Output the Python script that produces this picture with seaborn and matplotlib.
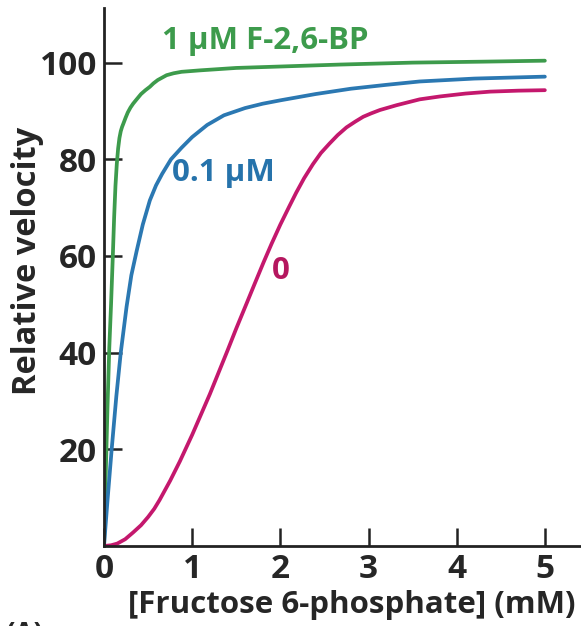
import numpy as np
import pandas as pd
import matplotlib
matplotlib.use("Agg")
import matplotlib.pyplot as plt
import seaborn as sns

# values
# 1 uM F-2,6-BP
x_one = [0, 0.02, 0.04, 0.06, 0.08, 0.1, 0.115, 0.13, 0.145, 0.16, 0.175, 0.19, 0.205,
         0.22, 0.245, 0.27, 0.3, 0.33, 0.37, 0.42, 0.47, 0.52, 0.56, 0.61, 0.66, 0.71,
         0.79, 0.88, 1.09, 1.5, 1.84, 2.68, 3.5, 4.3, 5.0]
v_one = [0, 15, 29, 41, 50, 60, 68, 74.5, 79, 82.2, 84.4, 85.8, 86.7,
         87.4, 88.6, 89.7, 90.7, 91.5, 92.4, 93.5, 94.3, 95, 95.7, 96.4, 96.9, 97.4,
         97.8, 98.1, 98.4, 98.9, 99.1, 99.6, 100, 100.2, 100.4]
# 0.1 uM
x_tenth = [0, 0.04, 0.087, 0.14, 0.19, 0.256, 0.31, 0.37, 0.44, 0.52, 0.59, 0.66,
           0.76, 0.88, 1.0, 1.17, 1.36, 1.6, 1.8, 2.0, 2.4, 2.8, 3.2, 3.58, 4.2, 5.0]
v_tenth = [0, 9.5, 20, 31, 40, 49.5, 56, 61, 66.5, 71.5, 74.6, 77,
           80, 82.4, 84.6, 87.1, 89.1, 90.6, 91.5, 92.2, 93.5, 94.6, 95.4, 96.1, 96.7, 97.1]
# no F-2,6-BP
x_zero = [0, 0.08, 0.15, 0.24, 0.33, 0.42, 0.5, 0.57, 0.63, 0.75, 0.86, 1.0, 1.1,
          1.2, 1.28, 1.4, 1.5, 1.62, 1.71, 1.81, 1.9, 2.0, 2.1, 2.18, 2.27, 2.37,
          2.46, 2.56, 2.65, 2.75, 2.85, 2.94, 3.03, 3.13, 3.32, 3.58, 3.81, 4.1,
          4.38, 4.7, 5.0]
v_zero = [0, 0.15, 0.5, 1.4, 2.8, 4.3, 6, 7.7, 9.5, 13.5, 17.5, 23, 27.2,
          31.4, 35, 40.4, 45, 50.3, 54.3, 58.7, 62.5, 66.5, 70.2, 73.1, 76.1, 79,
          81.3, 83.3, 85, 86.6, 87.8, 88.8, 89.5, 90.2, 91.2, 92.4, 93, 93.6,
          94, 94.2, 94.3]

curve_names = ["1 µM F-2,6-BP", "0.1 µM", "0"]
curve_colors = ["#3d9b4c", "#2b78b2", "#c4186d"]
text_colors = ["#3d9b4c", "#2673ab", "#b5175f"]
x_ticks = [0, 1, 2, 3, 4, 5]
y_ticks = [20, 40, 60, 80, 100]

df = pd.concat([
    pd.DataFrame({"F6P": x_one, "v": v_one, "curve": curve_names[0]}),
    pd.DataFrame({"F6P": x_tenth, "v": v_tenth, "curve": curve_names[1]}),
    pd.DataFrame({"F6P": x_zero, "v": v_zero, "curve": curve_names[2]}),
])

sns.set_style("ticks")
plt.rcParams["font.family"] = ["Open Sans", "DejaVu Sans"]
plt.rcParams["font.weight"] = "bold"

fig = plt.figure(figsize=(5.81, 6.26), dpi=100)
ax = fig.add_axes([104 / 581, 1 - 546 / 626, 477 / 581, 538 / 626])

sns.lineplot(data=df, x="F6P", y="v", hue="curve", palette=dict(zip(curve_names, curve_colors)),
             estimator=None, sort=False, lw=2.7, legend=False, ax=ax)

ax.set_xlim(0, 5.41)
ax.set_ylim(0, 111.3)
ax.set_xticks(x_ticks)
ax.set_yticks(y_ticks)
ax.tick_params(direction="in", length=13, width=1.8, labelsize=24, pad=5, color="#222222")
for lab in ax.get_xticklabels() + ax.get_yticklabels():
    lab.set_fontweight("bold")
sns.despine(ax=ax)
for s in ["left", "bottom"]:
    ax.spines[s].set_linewidth(2.0)
    ax.spines[s].set_color("#222222")

ax.set_xlabel("[Fructose 6-phosphate] (mM)", fontsize=22.5, fontweight="bold")
ax.set_ylabel("Relative velocity", fontsize=23.5, fontweight="bold")
ax.xaxis.set_label_coords((352 - 104) / 477, -(590 - 546) / 538)
ax.yaxis.set_label_coords(-(104 - 44) / 477, (546 - 261) / 538)

ax.text(0.66, 104.4, curve_names[0], color=text_colors[0], fontsize=22.5, fontweight="bold",
        ha="left", va="center")
ax.text(0.77, 77.2, curve_names[1], color=text_colors[1], fontsize=22.5, fontweight="bold",
        ha="left", va="center")
ax.text(2.01, 56.9, curve_names[2], color=text_colors[2], fontsize=22.5, fontweight="bold",
        ha="center", va="center")

fig.text(6 / 581, 1 - 621 / 626, "(A)", fontsize=20, fontweight="bold", ha="left", va="top")

fig.savefig("out.png", dpi=100)
